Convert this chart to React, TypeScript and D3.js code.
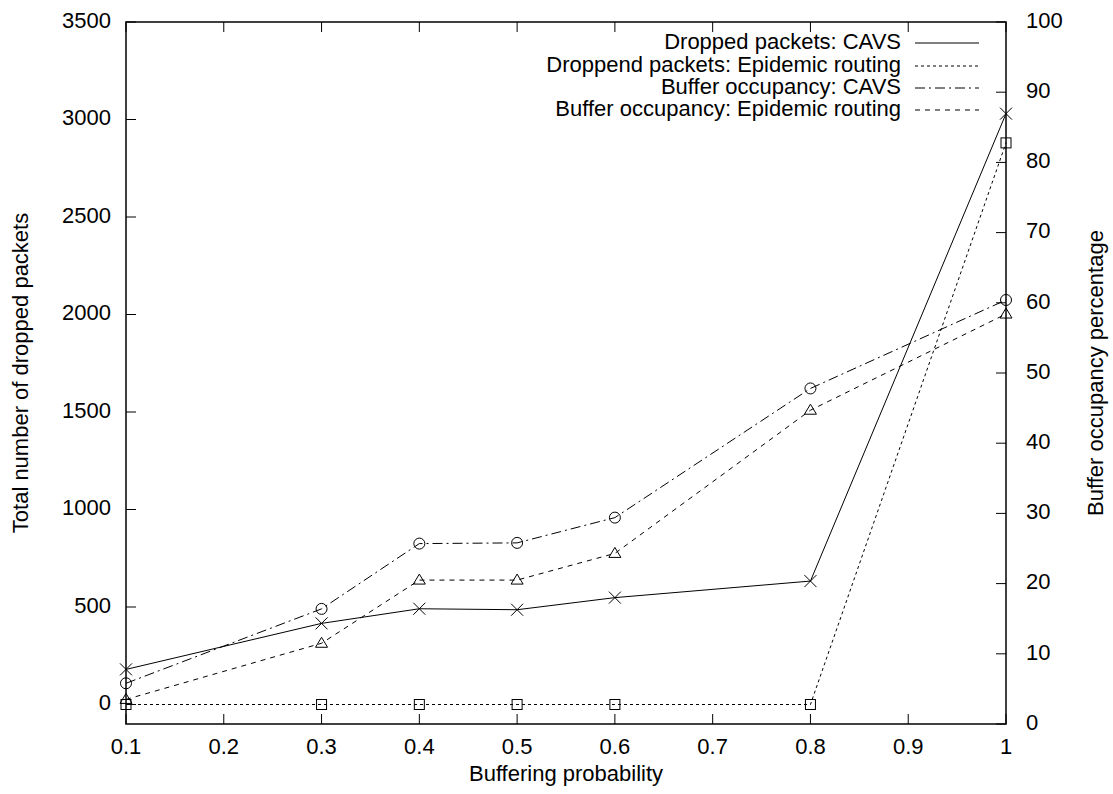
import React from "react";
import * as d3 from "d3";

// Buffering probability at which each run was made
const probability = [0.1, 0.3, 0.4, 0.5, 0.6, 0.8, 1];
// Total dropped packets (left axis)
const droppedCavs = [180, 416, 491, 486, 548, 633, 3030];
const droppedEpidemic = [0, 0, 0, 0, 0, 0, 2880];
// Buffer occupancy in percent (right axis)
const bufferCavs = [5.8, 16.4, 25.7, 25.8, 29.4, 47.8, 60.4];
const bufferEpidemic = [3.5, 11.5, 20.5, 20.5, 24.3, 44.7, 58.4];

const xTicks = [0.1, 0.2, 0.3, 0.4, 0.5, 0.6, 0.7, 0.8, 0.9, 1];
const yLeftTicks = [0, 500, 1000, 1500, 2000, 2500, 3000, 3500];
const yRightTicks = [0, 10, 20, 30, 40, 50, 60, 70, 80, 90, 100];

const legendLabels = [
  "Dropped packets: CAVS",
  "Droppend packets: Epidemic routing",
  "Buffer occupancy: CAVS",
  "Buffer occupancy: Epidemic routing",
];

const W = 1113;
const H = 794;
const left = 126;
const right = 1006;
const top = 22;
const bottom = 724;
const FONT = "'Liberation Sans', Arial, Helvetica, sans-serif";
const FS = 22;

type Marker = "cross" | "square" | "circle" | "triangle";

function MarkerShape({ kind, x, y }: { kind: Marker; x: number; y: number }) {
  const s = 6;
  const common = { fill: "none", stroke: "#000", strokeWidth: 1 };
  if (kind === "cross") {
    return (
      <path
        d={`M${x - s},${y - s}L${x + s},${y + s}M${x - s},${y + s}L${x + s},${y - s}`}
        {...common}
      />
    );
  }
  if (kind === "square") {
    return <rect x={x - 5} y={y - 5} width={10} height={10} {...common} />;
  }
  if (kind === "circle") {
    return <circle cx={x} cy={y} r={5.5} {...common} />;
  }
  return (
    <path d={`M${x},${y - 6}L${x + 6},${y + 4}L${x - 6},${y + 4}Z`} {...common} />
  );
}

export default function App() {
  const x = d3.scaleLinear().domain([0.1, 1]).range([left, right]);
  const yLeft = d3.scaleLinear().domain([-100, 3500]).range([bottom, top]);
  const yRight = d3.scaleLinear().domain([0, 100]).range([bottom, top]);

  const series = [
    { values: droppedCavs, scale: yLeft, dash: "none", marker: "cross" as Marker },
    { values: droppedEpidemic, scale: yLeft, dash: "3,3", marker: "square" as Marker },
    { values: bufferCavs, scale: yRight, dash: "10,4,2,4", marker: "circle" as Marker },
    { values: bufferEpidemic, scale: yRight, dash: "5,5", marker: "triangle" as Marker },
  ];

  const tick = 10;
  const legendTextX = 901;
  const legendLineX0 = 915;
  const legendLineX1 = 979;
  const legendRows = [43, 66, 88, 110];

  return (
    <svg
      width={W}
      height={H}
      style={{ position: "absolute", left: 0, top: 0, background: "#fff" }}
      fontFamily={FONT}
    >
      <rect x={0} y={0} width={W} height={H} fill="#fff" />

      {/* bottom and top ticks */}
      {xTicks.map((t) => (
        <g key={`x${t}`}>
          <line x1={x(t)} x2={x(t)} y1={bottom} y2={bottom - tick} stroke="#000" strokeWidth={1} />
          <line x1={x(t)} x2={x(t)} y1={top} y2={top + tick} stroke="#000" strokeWidth={1} />
          <text x={x(t)} y={748} fontSize={FS} textAnchor="middle" dominantBaseline="middle">
            {String(t)}
          </text>
        </g>
      ))}

      {/* left axis ticks */}
      {yLeftTicks.map((t) => (
        <g key={`yl${t}`}>
          <line x1={left} x2={left + tick} y1={yLeft(t)} y2={yLeft(t)} stroke="#000" strokeWidth={1} />
          <text x={111} y={yLeft(t)} fontSize={FS} textAnchor="end" dominantBaseline="middle">
            {t}
          </text>
        </g>
      ))}

      {/* right axis ticks */}
      {yRightTicks.map((t) => (
        <g key={`yr${t}`}>
          <line x1={right} x2={right - tick} y1={yRight(t)} y2={yRight(t)} stroke="#000" strokeWidth={1} />
          <text x={1026} y={yRight(t)} fontSize={FS} textAnchor="start" dominantBaseline="middle">
            {t}
          </text>
        </g>
      ))}

      {/* series */}
      {series.map((s, i) => {
        const line = d3
          .line<number>()
          .x((_, j) => x(probability[j]))
          .y((v) => s.scale(v));
        return (
          <g key={`s${i}`}>
            <path
              d={line(s.values) || ""}
              fill="none"
              stroke="#000"
              strokeWidth={1}
              strokeDasharray={s.dash}
            />
            {s.values.map((v, j) => (
              <MarkerShape key={j} kind={s.marker} x={x(probability[j])} y={s.scale(v)} />
            ))}
          </g>
        );
      })}

      {/* legend */}
      {legendLabels.map((label, i) => (
        <g key={`lg${i}`}>
          <text
            x={legendTextX}
            y={legendRows[i]}
            fontSize={FS}
            textAnchor="end"
            dominantBaseline="middle"
          >
            {label}
          </text>
          <line
            x1={legendLineX0}
            x2={legendLineX1}
            y1={legendRows[i]}
            y2={legendRows[i]}
            stroke="#000"
            strokeWidth={1}
            strokeDasharray={series[i].dash}
          />
        </g>
      ))}

      {/* frame */}
      <rect
        x={left}
        y={top}
        width={right - left}
        height={bottom - top}
        fill="none"
        stroke="#000"
        strokeWidth={1.5}
      />

      {/* axis titles */}
      <text x={(left + right) / 2} y={775} fontSize={FS} textAnchor="middle" dominantBaseline="middle">
        Buffering probability
      </text>
      <text
        transform={`translate(22,${(top + bottom) / 2}) rotate(-90)`}
        fontSize={FS}
        textAnchor="middle"
        dominantBaseline="middle"
      >
        Total number of dropped packets
      </text>
      <text
        transform={`translate(1097,${(top + bottom) / 2}) rotate(-90)`}
        fontSize={FS}
        textAnchor="middle"
        dominantBaseline="middle"
      >
        Buffer occupancy percentage
      </text>
    </svg>
  );
}
